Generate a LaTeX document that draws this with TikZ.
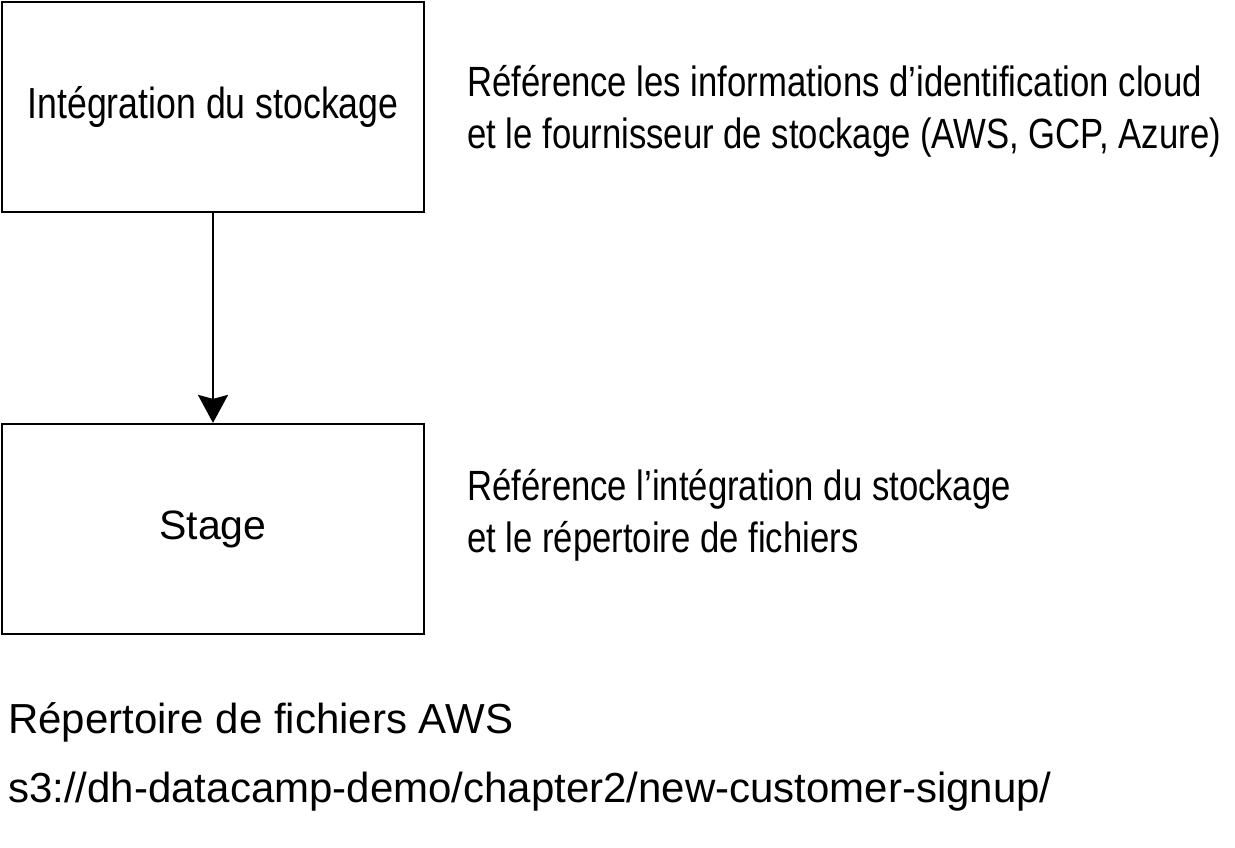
\documentclass[tikz,border=0pt]{standalone}
\usepackage{fontspec}
\setmainfont{Liberation Sans}
\newfontfamily\cond{Liberation Sans}[FakeStretch=0.82]
\usetikzlibrary{arrows.meta}
\begin{document}
\begin{tikzpicture}[x=1pt,y=-1pt,
  box/.style={draw,line width=2.2pt,minimum width=422pt,minimum height=210pt,inner sep=0pt},
  cnote/.style={anchor=west,align=left,font=\cond\fontsize{42.3}{52}\selectfont,inner sep=0pt},
  pl/.style={anchor=west,inner sep=0pt,font=\fontsize{42}{50}\selectfont}]
\useasboundingbox (0,0) rectangle (1235,848);
\node[box,font=\cond\fontsize{43.5}{50}\selectfont] (a) at (213,107) {Intégration du stockage};
\node[box,font=\fontsize{41}{48}\selectfont] (b) at (213,529) {Stage};
\draw[line width=2.2pt,-{Stealth[length=28pt,width=30pt,inset=4pt]}] (a) -- (b);
\node[cnote] (n1) at (467,111) {Référence les informations d’identification cloud\\et le fournisseur de stockage (AWS, GCP, Azure)};
\node[cnote] (n2) at (467,515) {Référence l’intégration du stockage\\et le répertoire de fichiers};
\node[pl] (t1) at (8,722) {Répertoire de fichiers AWS};
\node[pl] (t2) at (8,792) {s3://dh-datacamp-demo/chapter2/new-customer-signup/};
\end{tikzpicture}
\end{document}
